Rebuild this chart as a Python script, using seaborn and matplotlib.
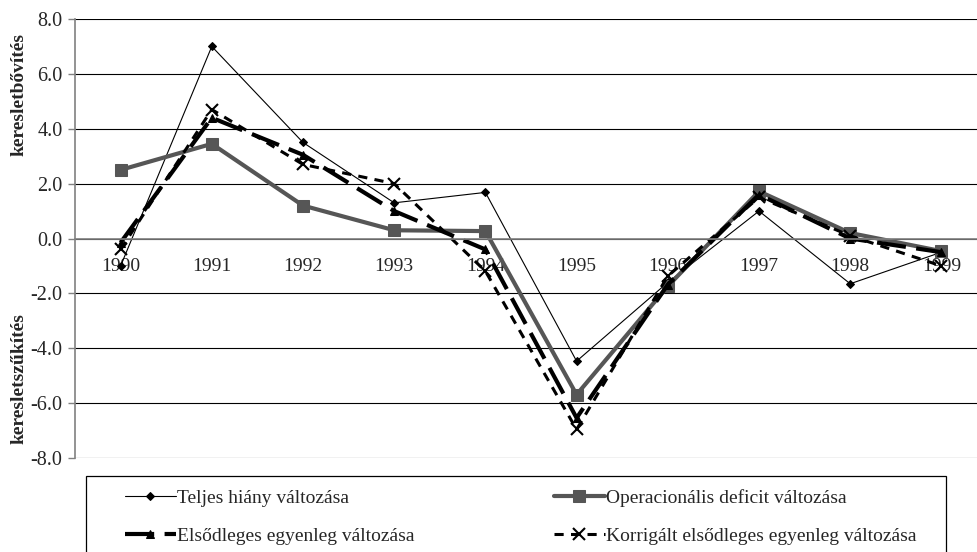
import matplotlib
matplotlib.use("Agg")
import matplotlib.pyplot as plt
from matplotlib.patches import Rectangle
import seaborn as sns
import pandas as pd
import numpy as np

years = ["1990", "1991", "1992", "1993", "1994", "1995", "1996", "1997", "1998", "1999"]
teljes = [-1.0, 7.0, 3.5, 1.3, 1.68, -4.47, -1.6, 1.0, -1.65, -0.5]
operacionalis = [2.5, 3.45, 1.2, 0.3, 0.27, -5.69, -1.74, 1.72, 0.2, -0.46]
elsodleges = [-0.15, 4.4, 3.05, 1.0, -0.4, -6.54, -1.68, 1.6, 0.0, -0.5]
korrigalt = [-0.4, 4.7, 2.7, 2.0, -1.19, -6.96, -1.37, 1.5, 0.1, -1.0]
series_names = ["Teljes hiány változása", "Operacionális deficit változása",
                "Elsődleges egyenleg változása", "Korrigált elsődleges egyenleg változása"]
yticks = [-8, -6, -4, -2, 0, 2, 4, 6, 8]
ytick_labels = ["-8.0", "-6.0", "-4.0", "-2.0", "0.0", "2.0", "4.0", "6.0", "8.0"]

sns.set_style("white")
plt.rcParams["font.family"] = ["Liberation Serif", "DejaVu Serif"]

W, H = 978, 552
fig = plt.figure(figsize=(W / 100, H / 100), dpi=100)
ax = fig.add_axes([75 / W, 1 - 458 / H, 912 / W, 439 / H])

styles = [
    dict(color="black", lw=0.8, marker="D", markersize=4, dashes=None),
    dict(color="#565656", lw=3.0, marker="s", markersize=9, dashes=None),
    dict(color="black", lw=3.0, marker="^", markersize=6, dashes=(7, 2.5)),
    dict(color="black", lw=2.2, marker="x", markersize=8, dashes=(3, 2.4)),
]
data_lists = [teljes, operacionalis, elsodleges, korrigalt]
handles = []
for name, vals, st in zip(series_names, data_lists, styles):
    df = pd.DataFrame({"x": np.arange(len(years)), "y": vals})
    kw = dict(color=st["color"], linewidth=st["lw"], marker=st["marker"],
              markersize=st["markersize"], markeredgecolor=st["color"],
              markerfacecolor=st["color"], label=name)
    if st["marker"] == "x":
        kw["markeredgewidth"] = 1.5
    sns.lineplot(data=df, x="x", y="y", ax=ax, legend=False, **kw)
    line = ax.lines[-1]
    if st["dashes"] is not None:
        line.set_dashes(st["dashes"])
    handles.append(line)

for s in ["top", "right"]:
    ax.spines[s].set_visible(False)
ax.spines["bottom"].set_position(("data", 0))
ax.spines["bottom"].set_color("#808080")
ax.spines["bottom"].set_linewidth(1.2)
ax.spines["left"].set_color("#808080")
ax.spines["left"].set_linewidth(1.2)

ax.set_xlim(-0.5, len(years) - 0.5)
ax.set_ylim(-8, 8)
ax.set_yticks(yticks)
ax.set_yticklabels(ytick_labels)
ax.set_xticks(np.arange(len(years)))
ax.set_xticklabels(years)
ax.set_xticks(np.arange(len(years)) + 0.5, minor=True)
ax.tick_params(axis="x", which="major", length=0, pad=14, labelsize=14)
ax.tick_params(axis="x", which="minor", length=4, width=1, color="#808080", direction="out")
ax.tick_params(axis="y", which="major", length=5, width=1, color="#808080", direction="out",
               pad=4, left=True, labelsize=14.5)
ax.set_xlabel("")
ax.set_ylabel("")

ax.yaxis.grid(True, color="black", linewidth=0.8)
ax.xaxis.grid(False)
ax.set_axisbelow(True)

fig.text(19 / W, 1 - 95 / H, "keresletbővítés", rotation=90, ha="center", va="center",
         fontsize=14, fontweight="bold")
fig.text(19 / W, 1 - 379 / H, "keresletszűkítés", rotation=90, ha="center", va="center",
         fontsize=14, fontweight="bold")

# legend frame (runs past the bottom edge like the reference)
frame_top = 476
fig.patches.append(Rectangle((86 / W, -20 / H), (946 - 86) / W, (H - frame_top + 20) / H,
                             transform=fig.transFigure, fill=False, edgecolor="black",
                             linewidth=0.9))

yc = 1 - 517 / H
common = dict(loc="center left", fontsize=14, frameon=False, handlelength=2.6,
              handletextpad=0.1, borderpad=0, borderaxespad=0, labelspacing=1.05)
leg1 = fig.legend(handles=[handles[0], handles[2]], labels=[series_names[0], series_names[2]],
                  bbox_to_anchor=(125 / W, yc), **common)
leg2 = fig.legend(handles=[handles[1], handles[3]], labels=[series_names[1], series_names[3]],
                  bbox_to_anchor=(554 / W, yc), **common)

fig.savefig("out.png", dpi=100)
